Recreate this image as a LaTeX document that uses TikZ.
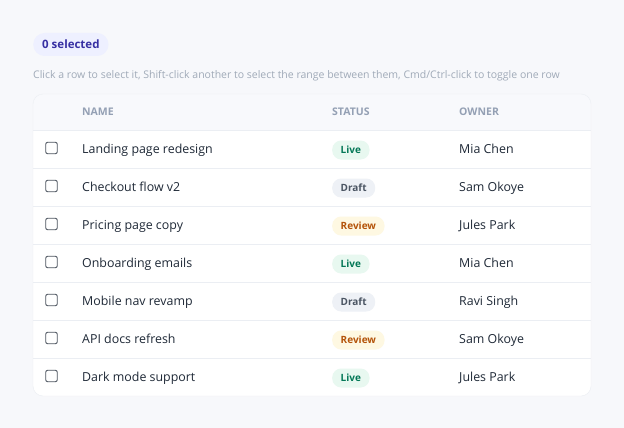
\documentclass[tikz,border=0pt]{standalone}
\usepackage{fontspec}
\setmainfont{Open Sans}
\begin{document}
\definecolor{bg}{HTML}{F7F8FB}
\definecolor{hdr}{HTML}{F8F9FC}
\definecolor{line}{HTML}{EBEEF3}
\definecolor{hdrtxt}{HTML}{94A0B4}
\definecolor{body}{HTML}{1F2937}
\definecolor{cap}{HTML}{A0AAB8}
\definecolor{selbg}{HTML}{EEF0FF}
\definecolor{seltx}{HTML}{3730A3}
\definecolor{livebg}{HTML}{E8F8F0}\definecolor{livetx}{HTML}{047857}
\definecolor{draftbg}{HTML}{EEF1F6}\definecolor{drafttx}{HTML}{4B5563}
\definecolor{revbg}{HTML}{FEF8E2}\definecolor{revtx}{HTML}{B45309}
\begin{tikzpicture}[x=1pt,y=-1pt,
  txt/.style={anchor=west,inner sep=0,text height=9pt,text depth=3pt,font=\fontsize{12.4}{14}\selectfont,text=body},
  hd/.style={anchor=west,inner sep=0,text height=7.5pt,text depth=0pt,font=\fontsize{10.5}{11}\selectfont\bfseries,text=hdrtxt},
  pill/.style={anchor=west,rounded corners=9pt,minimum height=19pt,text height=7.5pt,text depth=0.5pt,inner xsep=8.5pt,inner ysep=0,font=\fontsize{10}{12}\selectfont\bfseries},
  live/.style={pill,fill=livebg,text=livetx},
  draft/.style={pill,fill=draftbg,text=drafttx},
  review/.style={pill,fill=revbg,text=revtx},
  cb/.style={draw=body!80,line width=0.9pt,rounded corners=2pt,minimum size=11.5pt,inner sep=0}]
\fill[bg] (0,0) rectangle (624,428);
\useasboundingbox (0,0) rectangle (624,428);
\node[pill,fill=selbg,text=seltx,minimum height=23pt,rounded corners=11.5pt,inner xsep=9pt,text height=8.5pt,text depth=0.5pt,font=\fontsize{11.5}{14}\selectfont\bfseries] (sel) at (33,44.5) {0 selected};
\node[anchor=west,inner sep=0,font=\fontsize{10.5}{11}\selectfont,text=cap] (capt) at (33,75.5) {Click a row to select it, Shift-click another to select the range between them, Cmd/Ctrl-click to toggle one row};
\fill[white,rounded corners=10pt] (33,94) rectangle (591,396);
\begin{scope}
\clip[rounded corners=10pt] (33,94) rectangle (591,396);
\fill[hdr] (33,94) rectangle (591,130);
\end{scope}
\draw[line,rounded corners=10pt] (33,94) rectangle (591,396);
\draw[line,line width=1pt] (33,130) -- (591,130);
\node[hd] (hn) at (82,112) {NAME};
\node[hd] (hs) at (332,112) {STATUS};
\node[hd] (ho) at (459,112) {OWNER};
\foreach \i/\n/\s/\l/\o in {0/Landing page redesign/live/Live/Mia Chen,1/Checkout flow v2/draft/Draft/Sam Okoye,2/Pricing page copy/review/Review/Jules Park,3/Onboarding emails/live/Live/Mia Chen,4/Mobile nav revamp/draft/Draft/Ravi Singh,5/API docs refresh/review/Review/Sam Okoye,6/Dark mode support/live/Live/Jules Park}{
  \pgfmathsetmacro\yy{149+38*\i}
  \node[cb] (c\i) at (51.5,\yy-1) {};
  \node[txt] (n\i) at (82,\yy+1.5) {\n};
  \node[\s] (s\i) at (332,\yy+1) {\l};
  \node[txt] (o\i) at (459,\yy+1.5) {\o};
  \ifnum\i<6 \draw[line] (33,\yy+19) -- (591,\yy+19);\fi
}
\end{tikzpicture}
\end{document}
